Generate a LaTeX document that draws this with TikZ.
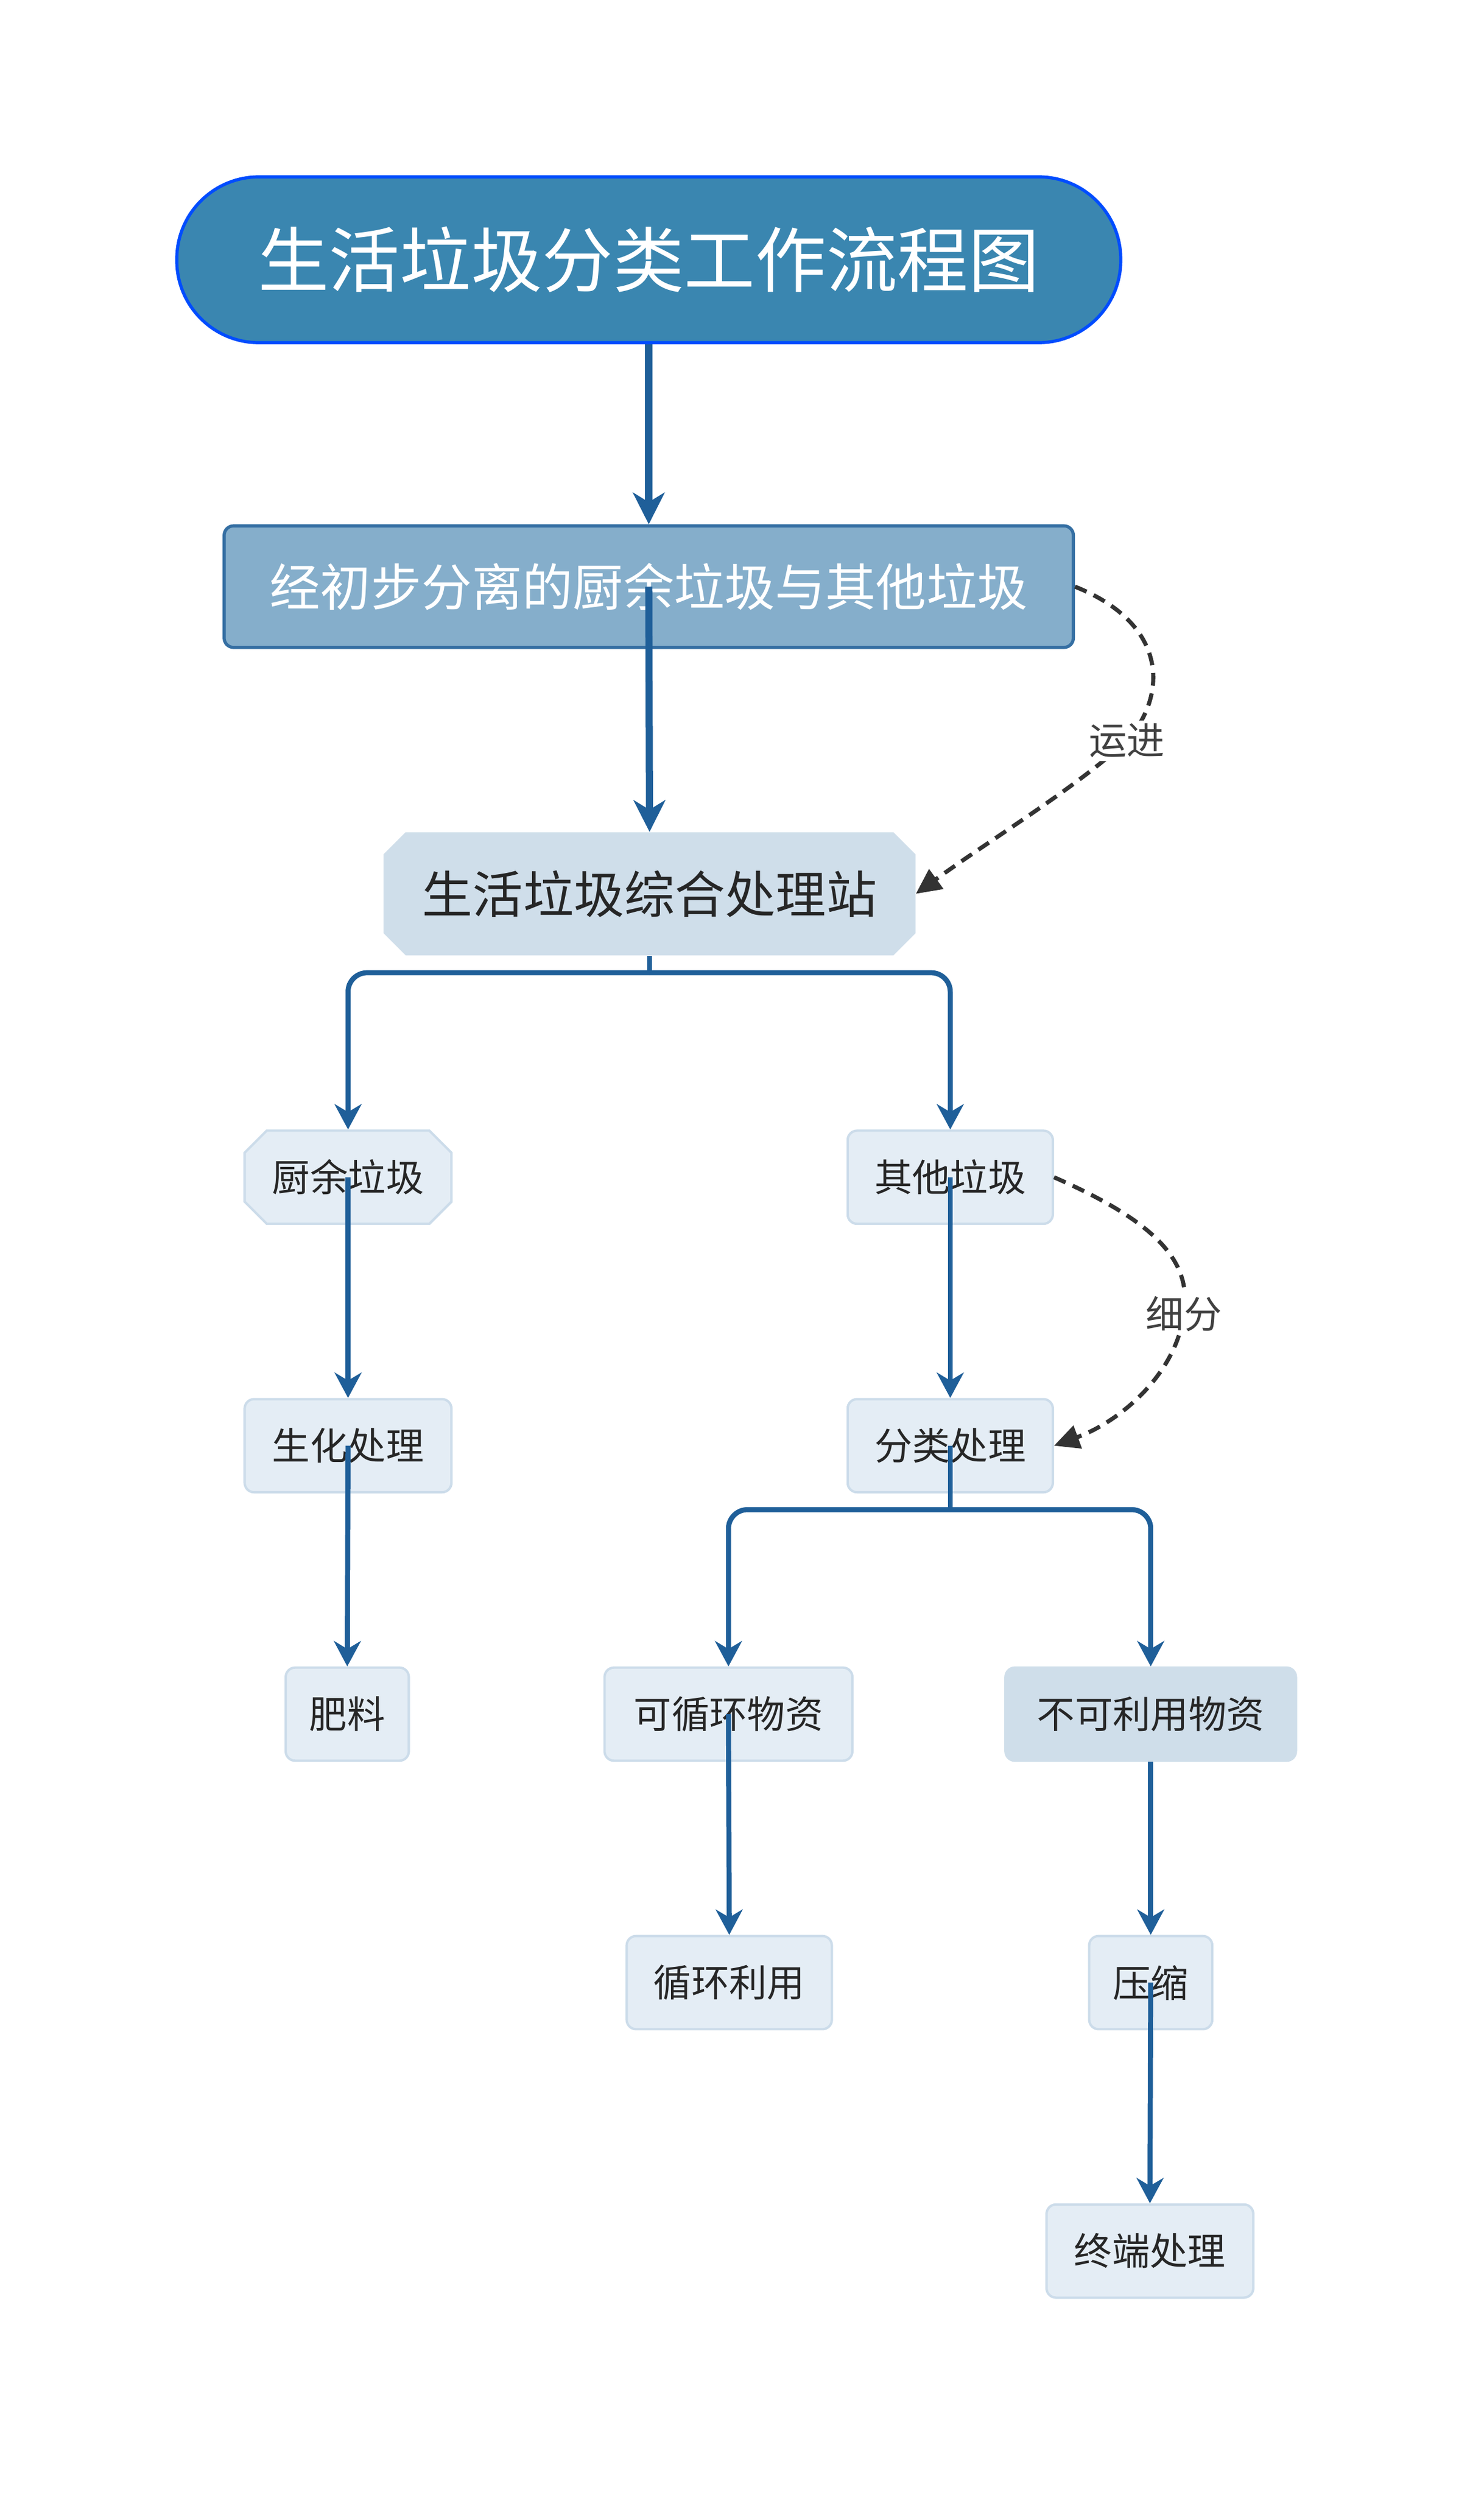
\documentclass[tikz,border=0pt]{standalone}
\usepackage{fontspec}
\setmainfont{Noto Sans CJK SC}
\usetikzlibrary{arrows.meta,shapes.misc}
\definecolor{cline}{HTML}{1F5F99}
\definecolor{ttl}{HTML}{3A86B0}
\definecolor{bx}{HTML}{85AECB}
\definecolor{st}{HTML}{CFDEEA}
\definecolor{lt}{HTML}{E4EDF5}
\definecolor{lb}{HTML}{CCDCEA}
\tikzset{
 conn/.style={draw=cline,line width=4.5pt,-{Stealth[length=20pt,width=20pt,inset=6pt]}},
 conn2/.style={draw=cline,line width=3.2pt,rounded corners=12pt,-{Stealth[length=16pt,width=17pt,inset=5pt]}},
 stem/.style={draw=cline,line width=3.2pt},
 dsh/.style={draw=black!80,line width=2.6pt,dash pattern=on 8pt off 5pt,-{Triangle[length=16pt,width=15pt]}},
 small/.style={rounded corners=6pt,fill=lt,draw=lb,line width=1.5pt,minimum height=59pt,font=\fontsize{24}{28}\selectfont,text=black!85,inner xsep=12pt},
 cham/.style={chamfered rectangle,chamfered rectangle xsep=2pt,chamfered rectangle ysep=12pt,fill=lt,draw=lb,line width=1.5pt,minimum height=59pt,font=\fontsize{24}{28}\selectfont,text=black!85,inner xsep=12pt},
 lbl/.style={font=\fontsize{24}{28}\selectfont,text=black!75,fill=white,inner sep=2pt}
}
\begin{document}
\begin{tikzpicture}[x=1pt,y=-1pt]
\useasboundingbox[fill=white] (0,0) rectangle (940,1580);
\node[fill=ttl,draw=blue!70!cyan,line width=2pt,rounded corners=52pt,minimum width=598pt,minimum height=105pt,text=white,font=\fontsize{45}{50}\selectfont] (t) at (411,164.5) {生活垃圾分类工作流程图};
\node[fill=bx,draw=cline!90,line width=2pt,rounded corners=6pt,minimum width=538pt,minimum height=77pt,text=white,font=\fontsize{32}{36}\selectfont] (b) at (411,371.5) {经初步分离的厨余垃圾与其他垃圾};
\node[chamfered rectangle,chamfered rectangle xsep=2pt,chamfered rectangle ysep=12pt,fill=st,minimum width=337pt,minimum height=78pt,text=black!85,font=\fontsize{32}{36}\selectfont] (s) at (411.5,566) {生活垃圾综合处理站};
\node[cham,minimum width=131pt] (k) at (220.5,745.5) {厨余垃圾};
\node[small,minimum width=130pt] (q) at (602,745.5) {其他垃圾};
\node[small,minimum width=131pt] (h) at (220.5,915.5) {生化处理};
\node[small,minimum width=130pt] (f) at (602,915.5) {分类处理};
\node[small,minimum width=78pt] (fl) at (220,1085.5) {肥料};
\node[small,minimum width=157pt] (kx) at (461.5,1085.5) {可循环物资};
\node[small,fill=st,draw=st,minimum width=184pt] (bk) at (729,1085.5) {不可利用物资};
\node[small,minimum width=130pt] (xl) at (462,1255.5) {循环利用};
\node[small,minimum width=78pt] (ys) at (729,1255.5) {压缩};
\node[small,minimum width=131pt] (zd) at (728.5,1425.5) {终端处理};
\coordinate (j1) at (411.5,616);
\coordinate (j2) at (602,956);
\draw[conn] (t.south) -- (b.north);
\draw[conn] (b.center) -- (s.north);
\draw[stem] (s.south) -- (j1);
\draw[conn2] (j1) -| (k.north);
\draw[conn2] (j1) -| (q.north);
\draw[conn2] (k.center) -- (h.north);
\draw[conn2] (h.center) -- (fl.north);
\draw[conn2] (q.center) -- (f.north);
\draw[stem] (f.center) -- (j2);
\draw[conn2] (j2) -| (kx.north);
\draw[conn2] (j2) -| (bk.north);
\draw[conn2] (kx.center) -- (xl.north);
\draw[conn2] (bk.south) -- (ys.north);
\draw[conn2] (ys.center) -- (zd.north);
\draw[dsh] (b.east) .. controls (740,395) and (740,440) .. (714,469) .. controls (680,500) and (630,530) .. (s.east);
\node[lbl] (l1) at (714,469) {运进};
\draw[dsh] (q.east) .. controls (735,775) and (755,800) .. (750,832) .. controls (745,870) and (710,900) .. (f.east);
\node[lbl] (l2) at (750,832) {细分};
\end{tikzpicture}
\end{document}
